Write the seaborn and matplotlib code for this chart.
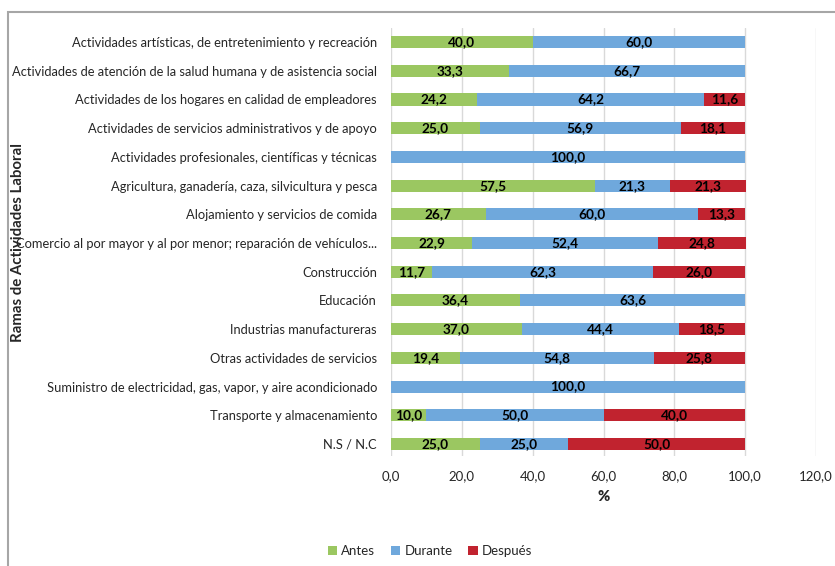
import matplotlib
matplotlib.use("Agg")
import matplotlib.pyplot as plt
import seaborn as sns
import pandas as pd
import numpy as np
from matplotlib.patches import Patch, Rectangle

categories = [
    "Actividades artísticas, de entretenimiento y recreación",
    "Actividades de atención de la salud humana y de asistencia social",
    "Actividades de los hogares en calidad de empleadores",
    "Actividades de servicios administrativos y de apoyo",
    "Actividades profesionales, científicas y técnicas",
    "Agricultura, ganadería, caza, silvicultura y pesca",
    "Alojamiento y servicios de comida",
    "Comercio al por mayor y al por menor; reparación de vehículos...",
    "Construcción",
    "Educación",
    "Industrias manufactureras",
    "Otras actividades de servicios",
    "Suministro de electricidad, gas, vapor, y aire acondicionado",
    "Transporte y almacenamiento",
    "N.S / N.C",
]
antes = [40.0, 33.3, 24.2, 25.0, 0, 57.5, 26.7, 22.9, 11.7, 36.4, 37.0, 19.4, 0, 10.0, 25.0]
durante = [60.0, 66.7, 64.2, 56.9, 100.0, 21.3, 60.0, 52.4, 62.3, 63.6, 44.4, 54.8, 100.0, 50.0, 25.0]
despues = [0, 0, 11.6, 18.1, 0, 21.3, 13.3, 24.8, 26.0, 0, 18.5, 25.8, 0, 40.0, 50.0]
series_names = ["Antes", "Durante", "Después"]
colors = ["#9BC761", "#6FA8DC", "#C1232F"]
xticks = [0, 20, 40, 60, 80, 100, 120]

sns.set_theme(style="white")
plt.rcParams["font.family"] = ["Lato", "DejaVu Sans"]

df = pd.DataFrame({"cat": categories, "Antes": antes, "Durante": durante, "Después": despues})
df["c1"] = df["Antes"]
df["c2"] = df["Antes"] + df["Durante"]
df["c3"] = df["c2"] + df["Después"]

fig = plt.figure(figsize=(8.35, 5.66), dpi=100)
ax = fig.add_axes([391/835, 1-456/566, (816-391)/835, (456-28)/566])

bw = 0.42
for col, color in zip(["c3", "c2", "c1"], colors[::-1]):
    sns.barplot(data=df, x=col, y="cat", color=color, width=bw, ax=ax,
                orient="h", saturation=1, linewidth=0, zorder=3)

# labels
for i, row in df.iterrows():
    left = 0
    for name in series_names:
        v = row[name]
        if v > 0:
            ax.text(left + v/2, i, f"{v:.1f}".replace(".", ","), ha="center", va="center",
                    fontsize=9.8, fontweight="bold", color="black", zorder=5)
        left += v

ax.set_xlim(0, 120)
ax.set_ylim(14.42, -0.49)
ax.set_xticks(xticks)
ax.set_xticklabels([f"{t:.1f}".replace(".", ",") for t in xticks], fontsize=9.5)
ax.tick_params(axis="y", labelsize=9.3, pad=10, length=0)
ax.tick_params(axis="x", pad=10, length=0)
ax.grid(axis="x", color="#D9D9D9", linewidth=1, zorder=0)
ax.set_axisbelow(True)
for s in ax.spines.values():
    s.set_visible(False)
ax.set_xlabel("%", fontsize=10.5, fontweight="heavy", labelpad=6)
ax.set_ylabel("")
fig.text(18/835, 1-243/566, "Ramas de Actividades Laboral", rotation=90, ha="center", va="center",
         fontsize=10.8, fontweight="bold")

handles = [Patch(facecolor=c, edgecolor="none") for c in colors]
fig.legend(handles, series_names, loc="center", bbox_to_anchor=(430/835, 1-551/566), ncol=3,
           frameon=False, fontsize=9.5, handlelength=0.7, handleheight=0.7, handletextpad=0.3,
           columnspacing=1.2)

fig.patches.append(Rectangle((8/835, -0.1), 1.2, 1-12/566+0.1, transform=fig.transFigure,
                             fill=False, edgecolor="#A6A6A6", linewidth=1.5))

fig.savefig("out.png", dpi=100)
